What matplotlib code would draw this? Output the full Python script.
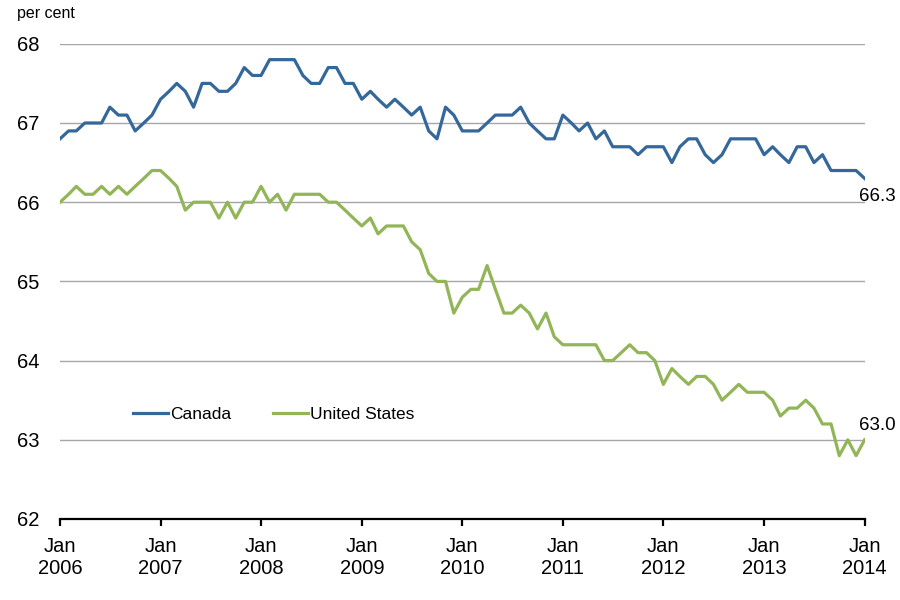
import numpy as np
import pandas as pd
import matplotlib
matplotlib.use('Agg')
import matplotlib.pyplot as plt

plt.rcParams['font.family'] = ['Liberation Sans', 'DejaVu Sans']

# monthly participation rate, Jan 2006 - Jan 2014
months = pd.date_range('2006-01-01', periods=97, freq='MS')

canada = [66.8, 66.9, 66.9, 67.0, 67.0, 67.0, 67.2, 67.1, 67.1, 66.9, 67.0, 67.1,
          67.3, 67.4, 67.5, 67.4, 67.2, 67.5, 67.5, 67.4, 67.4, 67.5, 67.7, 67.6,
          67.6, 67.8, 67.8, 67.8, 67.8, 67.6, 67.5, 67.5, 67.7, 67.7, 67.5, 67.5,
          67.3, 67.4, 67.3, 67.2, 67.3, 67.2, 67.1, 67.2, 66.9, 66.8, 67.2, 67.1,
          66.9, 66.9, 66.9, 67.0, 67.1, 67.1, 67.1, 67.2, 67.0, 66.9, 66.8, 66.8,
          67.1, 67.0, 66.9, 67.0, 66.8, 66.9, 66.7, 66.7, 66.7, 66.6, 66.7, 66.7,
          66.7, 66.5, 66.7, 66.8, 66.8, 66.6, 66.5, 66.6, 66.8, 66.8, 66.8, 66.8,
          66.6, 66.7, 66.6, 66.5, 66.7, 66.7, 66.5, 66.6, 66.4, 66.4, 66.4, 66.4,
          66.3]

us = [66.0, 66.1, 66.2, 66.1, 66.1, 66.2, 66.1, 66.2, 66.1, 66.2, 66.3, 66.4,
      66.4, 66.3, 66.2, 65.9, 66.0, 66.0, 66.0, 65.8, 66.0, 65.8, 66.0, 66.0,
      66.2, 66.0, 66.1, 65.9, 66.1, 66.1, 66.1, 66.1, 66.0, 66.0, 65.9, 65.8,
      65.7, 65.8, 65.6, 65.7, 65.7, 65.7, 65.5, 65.4, 65.1, 65.0, 65.0, 64.6,
      64.8, 64.9, 64.9, 65.2, 64.9, 64.6, 64.6, 64.7, 64.6, 64.4, 64.6, 64.3,
      64.2, 64.2, 64.2, 64.2, 64.2, 64.0, 64.0, 64.1, 64.2, 64.1, 64.1, 64.0,
      63.7, 63.9, 63.8, 63.7, 63.8, 63.8, 63.7, 63.5, 63.6, 63.7, 63.6, 63.6,
      63.6, 63.5, 63.3, 63.4, 63.4, 63.5, 63.4, 63.2, 63.2, 62.8, 63.0, 62.8,
      63.0]

yticks = [62, 63, 64, 65, 66, 67, 68]
years = list(range(2006, 2015))

blue = '#34679A'
green = '#92B557'

fig = plt.figure(figsize=(9, 6), dpi=100)
ax = fig.add_axes([0.0667, 0.135, 0.894, 0.792])

ax.plot(months, canada, color=blue, lw=2.3, label='Canada', zorder=3)
ax.plot(months, us, color=green, lw=2.3, label='United States', zorder=3)

ax.set_xlim(months[0], months[-1])
ax.set_ylim(62, 68)
ax.set_yticks(yticks)
ax.set_yticklabels([str(v) for v in yticks])
ax.yaxis.grid(True, color='#A6A6A6', lw=1.0)
ax.set_axisbelow(True)

ticks = [pd.Timestamp(f'{y}-01-01') for y in years]
ax.set_xticks(ticks)
ax.set_xticklabels([f'Jan\n{y}' for y in years], linespacing=1.2)

for s in ['left', 'top', 'right']:
    ax.spines[s].set_visible(False)
ax.spines['bottom'].set_color('black')
ax.spines['bottom'].set_linewidth(1.6)
ax.spines['bottom'].set_zorder(4)

ax.tick_params(axis='y', length=0, pad=15, labelsize=14.5)
ax.tick_params(axis='x', length=5, width=1.6, direction='out', pad=8, labelsize=14.5)

ax.annotate(f'{canada[-1]:.1f}', xy=(months[-1], canada[-1]), xytext=(-4, -7),
            textcoords='offset points', ha='left', va='top', fontsize=13.5,
            annotation_clip=False)
ax.annotate(f'{us[-1]:.1f}', xy=(months[-1], us[-1]), xytext=(-4, 4),
            textcoords='offset points', ha='left', va='bottom', fontsize=13.5,
            annotation_clip=False)

ax.legend(loc='center left', bbox_to_anchor=(0.071, 0.22), ncol=2, frameon=False,
          fontsize=12.5, handlelength=2.0, handletextpad=0.15, columnspacing=2.4)

fig.text(0.019, 0.99, 'per cent', ha='left', va='top', fontsize=11.5)

fig.savefig('out.png', dpi=100)
